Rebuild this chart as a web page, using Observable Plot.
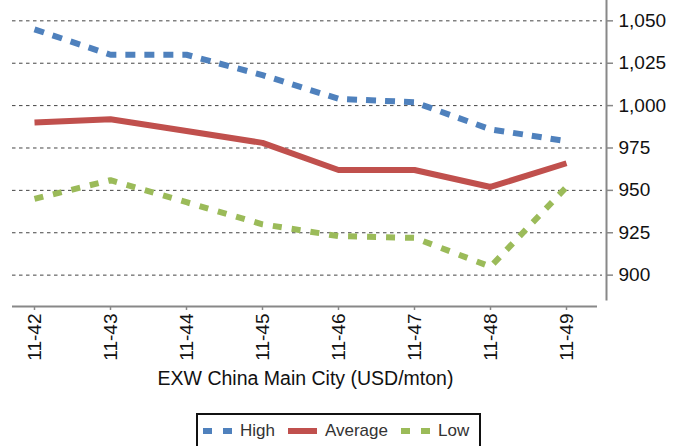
<!DOCTYPE html>
<html><head><meta charset="utf-8">
<script src="https://cdn.jsdelivr.net/npm/d3@7"></script>
<script src="https://cdn.jsdelivr.net/npm/@observablehq/plot@0.6"></script>
<style>
body{margin:0;background:#fff;font-family:Arial,"Liberation Sans",sans-serif;}
#wrap{position:relative;width:673px;height:446px;overflow:hidden;}
#legend{position:absolute;left:196px;top:413px;width:285px;height:40px;border:2px solid #111;box-sizing:border-box;display:flex;align-items:center;height:33px;padding-left:5px;font-size:17px;color:#333;border-bottom:none;}
#legend .it{display:flex;align-items:center;margin-right:13px;}
#legend svg{margin-right:8px;}
</style></head><body>
<div id="wrap"><div id="chart"></div><div id="legend"></div></div>
<script>
const weeks = ["11-42","11-43","11-44","11-45","11-46","11-47","11-48","11-49"];
const high = [1045, 1030, 1030, 1018, 1004, 1002, 986, 979];
const average = [990, 992, 985, 978, 962, 962, 952, 966];
const low = [945, 956, 943, 930, 923, 922, 905, 952];
const yTicks = [900, 925, 950, 975, 1000, 1025, 1050];
const seriesNames = ["High", "Average", "Low"];
const colors = {High: "#4F81BD", Average: "#C0504D", Low: "#9BBB59"};
const dashes = {High: "10,9", Average: null, Low: "9,10"};

const rows = [];
weeks.forEach((w, i) => {
  rows.push({week: w, value: high[i], series: "High"});
  rows.push({week: w, value: average[i], series: "Average"});
  rows.push({week: w, value: low[i], series: "Low"});
});

const lineMarks = seriesNames.map(s => Plot.line(rows.filter(d => d.series === s), {
  x: "week", y: "value", stroke: colors[s], strokeWidth: 6,
  strokeDasharray: dashes[s] || undefined, strokeLinecap: "butt", strokeLinejoin: "miter"
}));

const chart = Plot.plot({
  width: 673, height: 400,
  marginTop: 0, marginLeft: 12, marginRight: 67, marginBottom: 94,
  style: {fontFamily: "Arial, 'Liberation Sans', sans-serif", color: "#111", background: "#fff"},
  x: {type: "point", domain: weeks, range: [33, 567], padding: 0, label: null},
  y: {domain: [881.5, 1062], label: null},
  marks: [
    Plot.ruleY(yTicks, {stroke: "#444", strokeWidth: 1, strokeDasharray: "3.5,3.5", insetRight: 4}),
    ...lineMarks,
    Plot.ruleY([881.5], {stroke: "#888", strokeWidth: 2, insetRight: 9}),
    Plot.frame({anchor: "right", stroke: "#888", strokeWidth: 2, insetBottom: 7}),
    Plot.axisY(yTicks, {anchor: "right", tickSize: 6, tickPadding: 6, fontSize: 19, stroke: "#888", strokeWidth: 1.5, tickFormat: d3.format(","), label: null}),
    Plot.axisX({anchor: "bottom", tickRotate: -90, tickSize: 4, tickPadding: 3, fontSize: 19, stroke: "#888", strokeWidth: 1.5, label: null}),
    Plot.text(["EXW China Main City (USD/mton)"], {frameAnchor: "bottom", dy: 78, dx: -4, fontSize: 19.5, fill: "#111", textAnchor: "middle"})
  ]
});
document.getElementById("chart").appendChild(chart);

const legend = document.getElementById("legend");
seriesNames.forEach(s => {
  const it = document.createElement("div");
  it.className = "it";
  const dash = dashes[s] ? `stroke-dasharray="9,11"` : "";
  it.innerHTML = `<svg width="29" height="10"><line x1="0" y1="5" x2="29" y2="5" stroke="${colors[s]}" stroke-width="6" ${dash}/></svg><span>${s}</span>`;
  legend.appendChild(it);
});
</script>
</body></html>
